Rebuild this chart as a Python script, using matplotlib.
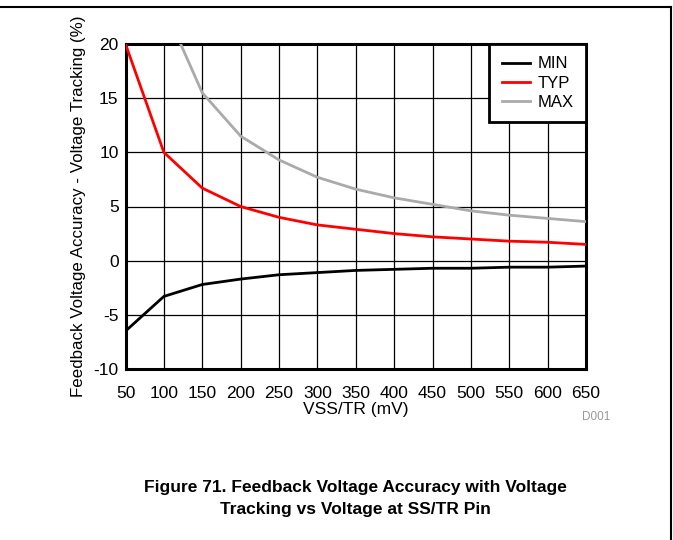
import numpy as np
import matplotlib
matplotlib.use('Agg')
import matplotlib.pyplot as plt
from matplotlib.lines import Line2D

plt.rcParams['font.family'] = ['Liberation Sans', 'DejaVu Sans']
plt.rcParams['axes.unicode_minus'] = False

vss = [50, 100, 150, 200, 250, 300, 350, 400, 450, 500, 550, 600, 650]
acc_min = [-6.5, -3.3, -2.2, -1.7, -1.3, -1.1, -0.9, -0.8, -0.7, -0.7, -0.6, -0.6, -0.5]
acc_typ = [20.0, 10.0, 6.7, 5.0, 4.0, 3.3, 2.9, 2.5, 2.2, 2.0, 1.8, 1.7, 1.5]
vss_max = [100, 150, 200, 250, 300, 350, 400, 450, 500, 550, 600, 650]
acc_max = [23.5, 15.5, 11.5, 9.3, 7.7, 6.6, 5.8, 5.2, 4.6, 4.2, 3.9, 3.6]
xticks = list(range(50, 651, 50))
yticks = list(range(-10, 21, 5))

fig = plt.figure(figsize=(6.73, 5.4), dpi=100)
ax = fig.add_axes([125.5 / 673, 1 - 369 / 540, 460.5 / 673, 325 / 540])

ax.plot(vss, acc_min, color='black', lw=2.0, label='MIN', zorder=3)
ax.plot(vss, acc_typ, color='#ff0000', lw=2.0, label='TYP', zorder=3)
ax.plot(vss_max, acc_max, color='#aaaaaa', lw=2.0, label='MAX', zorder=3)

ax.set_xlim(50, 650); ax.set_ylim(-10, 20)
ax.set_xticks(xticks); ax.set_yticks(yticks)
ax.tick_params(length=0, labelsize=12.5)
ax.tick_params(axis='x', pad=12)
ax.tick_params(axis='y', pad=5)
ax.grid(True, color='black', lw=0.9)
ax.set_axisbelow(True)
for sp in ax.spines.values():
    sp.set_linewidth(2.2)
ax.set_xlabel('VSS/TR (mV)', fontsize=12.5, labelpad=1)
ax.set_ylabel('Feedback Voltage Accuracy - Voltage Tracking (%)', fontsize=12.2, labelpad=5.5)

leg = ax.legend(loc='upper right', fontsize=12, frameon=True, fancybox=False,
                handlelength=1.7, handletextpad=0.45, borderpad=0.75, labelspacing=0.25,
                borderaxespad=0, framealpha=1)
leg.get_frame().set_edgecolor('black')
leg.get_frame().set_linewidth(2.0)

fig.text(596 / 673, 1 - 417 / 540, 'D001', fontsize=8.5, color='#999999', ha='center', va='center')

cap = 'Figure 71. Feedback Voltage Accuracy with Voltage\nTracking vs Voltage at SS/TR Pin'
fig.text(355 / 673, 1 - 498.5 / 540, cap, fontsize=12.5, fontweight='bold', ha='center', va='center',
         linespacing=1.55)

# page frame lines (top and right)
fig.add_artist(Line2D([0, 671 / 673], [1 - 7 / 540, 1 - 7 / 540], color='black', lw=1.5,
                      transform=fig.transFigure))
fig.add_artist(Line2D([670.5 / 673, 670.5 / 673], [1 - 7 / 540, 0], color='black', lw=1.5,
                      transform=fig.transFigure))

fig.savefig('out.png', dpi=100)
